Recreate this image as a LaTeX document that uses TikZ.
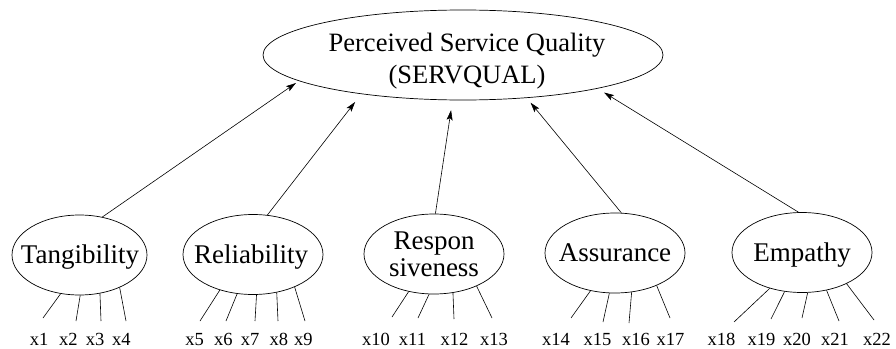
\documentclass[tikz,border=0pt]{standalone}
\usepackage{fontspec}
\setmainfont{Liberation Serif}
\usetikzlibrary{arrows.meta,shapes.geometric}

\tikzset{
  latent/.style={draw, ellipse, inner sep=0pt, line width=0.7pt,
                 minimum width=140pt, minimum height=80pt},
  construct/.style={font=\fontsize{27}{26.7}\selectfont, align=center, inner sep=0pt},
  item/.style={font=\fontsize{18.5}{20}\selectfont, anchor=base, inner sep=0pt},
  load/.style={line width=0.6pt},
  effect/.style={line width=0.6pt, -{Stealth[length=10pt,width=6pt,inset=2pt]}}
}

\begin{document}
\begin{tikzpicture}[x=1pt, y=-1pt]
\useasboundingbox (0,0) rectangle (896,348);

% second-order construct
\node[draw, ellipse, inner sep=0pt, line width=0.7pt,
      minimum width=400pt, minimum height=90pt] (sq) at (463,55) {};
\node[font=\fontsize{26.5}{32}\selectfont, align=center, inner sep=0pt]
      (sqt) at (467,60.7) {Perceived Service Quality\\(SERVQUAL)};

% first-order dimensions
\node[latent, minimum width=135pt] (tang) at (79.5,255) {};
\node[construct, anchor=base] (tangt) at (80,263.3) {Tangibility};

\node[latent] (rel) at (253,254.5) {};
\node[construct, anchor=base] (relt) at (251,263.3) {Reliability};

\node[latent] (resp) at (434,254) {};
\node[construct] (respt) at (434,254.4) {Respon\\siveness};

\node[latent] (assur) at (615,253) {};
\node[construct, anchor=base] (assurt) at (615,261.7) {Assurance};

\node[latent] (emp) at (802,252.5) {};
\node[construct, anchor=base] (empt) at (802,261.7) {Empathy};

% paths to the overall quality construct
\draw[effect, shorten >=3.5pt] (tang.59.6) -- (sq.189.1);
\draw[effect, shorten >=10pt]  (rel.70.7)  -- (sq.201.4);
\draw[effect, shorten >=10pt]  (resp.88.6) -- (sq.257.9);
\draw[effect, shorten >=6pt]   (assur.81.5) -- (sq.-34.9);
\draw[effect, shorten >=7.5pt] (emp.95.7)  -- (sq.-14.6);

% measurement items: dimension / anchor angle / line end / label x / index
\foreach \d/\a/\ex/\ey/\lx/\n in {
  tang/-116/43/318/39/1, tang/-89/76/321/68.3/2, tang/-62/101/321/95/3, tang/-39.5/126/321/121.3/4,
  rel/-133.5/200/321/194.5/5, rel/-112/226/321/223.3/6, rel/-85/255/321/250/7, rel/-58/278/321/278.8/8, rel/-38/305/321/303.3/9,
  resp/-124/392/317/376/10, resp/-97/418/318/412.5/11, resp/-64/454/319/454.5/12, resp/-37/492/318/494/13,
  assur/-123/571/318/556/14, assur/-98/603/322/597.5/15, assur/-67/629/323/636/16, assur/-38/670/318/670.5/17,
  emp/-132/734/322/721.5/18, emp/-114/771/319/761.5/19, emp/-82/802/318/797/20, emp/-57/839/321/835/21, emp/-35/874/320/877/22}
{
  \coordinate (e\n) at (\ex,\ey);
  \draw[load] (\d.\a) -- (e\n);
  \node[item] (x\n) at (\lx,345) {x\n};
}
\end{tikzpicture}
\end{document}
